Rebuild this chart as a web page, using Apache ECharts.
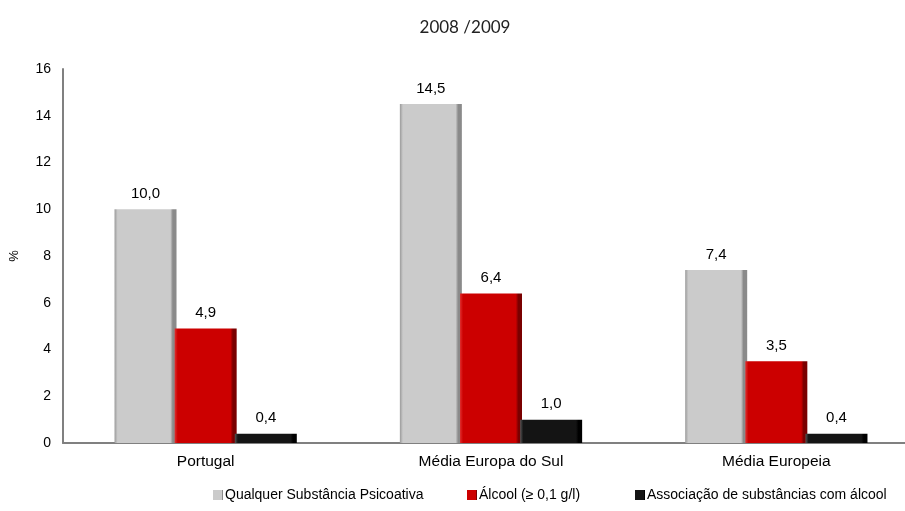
<!DOCTYPE html>
<html>
<head>
<meta charset="utf-8">
<script src="https://cdn.jsdelivr.net/npm/echarts@6/dist/echarts.min.js"></script>
<style>
  html, body { margin: 0; padding: 0; background: #fff; overflow: hidden; }
  #chart { width: 925px; height: 511px; }
</style>
</head>
<body>
<div id="chart"></div>
<script>
// Categories and series values (%)
const categories = ['Portugal', 'Média Europa do Sul', 'Média Europeia'];
const seriesNames = ['Qualquer Substância Psicoativa', 'Álcool (≥ 0,1 g/l)', 'Associação de substâncias com álcool'];
const psicoativa = [10.0, 14.5, 7.4];
const alcool = [4.9, 6.4, 3.5];
const associacao = [0.4, 1.0, 0.4];
const yTicks = [0, 2, 4, 6, 8, 10, 12, 14, 16];

const FONT = '"Liberation Sans", Arial, sans-serif';

// Bevelled bar fill: light left edge, flat face, shaded right edge
function bevel(edgeL, face, edgeR) {
  return {
    type: 'linear', x: 0, y: 0, x2: 1, y2: 0,
    colorStops: [
      { offset: 0, color: edgeL },
      { offset: 0.05, color: face },
      { offset: 0.9, color: face },
      { offset: 0.94, color: edgeR },
      { offset: 1, color: edgeR }
    ]
  };
}

const fmt = p => p.value.toFixed(1).replace('.', ',');

function barSeries(name, data, fill) {
  return {
    name: name,
    type: 'bar',
    data: data,
    barWidth: 62,
    barGap: '-3%',
    itemStyle: { color: fill },
    label: {
      show: true, position: 'top', distance: 8,
      formatter: fmt, fontFamily: FONT, fontSize: 15, color: '#000'
    }
  };
}

// One legend block per series so each entry sits at its own spot
const legendLefts = [208, 462, 630];
const legends = seriesNames.map((n, i) => ({
  data: [n],
  bottom: 4, left: legendLefts[i],
  itemWidth: 10, itemHeight: 10,
  icon: 'rect',
  textStyle: { fontFamily: FONT, fontSize: 14, color: '#000', padding: [0, 0, 0, -3] }
}));

const chart = echarts.init(document.getElementById('chart'), null, { renderer: 'canvas' });
chart.setOption({
  animation: false,
  color: ['#c8c8c8', '#cc0000', '#111111'],
  title: {
    text: '2008 /2009', left: 460, textAlign: 'center', top: 14,
    textStyle: { fontFamily: 'Lato, "DejaVu Sans", sans-serif', fontSize: 17, fontWeight: 'normal', color: '#222' }
  },
  legend: legends,
  grid: { left: 61, right: 6, top: 69, bottom: 68 },
  xAxis: {
    type: 'category', data: categories,
    axisLine: { lineStyle: { color: '#808080', width: 2 } },
    axisTick: { show: false },
    axisLabel: { fontFamily: FONT, fontSize: 15.5, color: '#000', margin: 11 }
  },
  yAxis: {
    type: 'value', min: yTicks[0], max: yTicks[yTicks.length - 1], interval: 2,
    name: '%', nameLocation: 'middle', nameGap: 42, nameRotate: 90,
    nameTextStyle: { fontFamily: FONT, fontSize: 13, color: '#000' },
    axisLine: { show: true, lineStyle: { color: '#808080', width: 2 } },
    axisTick: { show: false },
    splitLine: { show: false },
    axisLabel: { fontFamily: FONT, fontSize: 14, color: '#000', margin: 12 }
  },
  series: [
    barSeries(seriesNames[0], psicoativa, bevel('#9a9a9a', '#cbcbcb', '#8a8a8a')),
    barSeries(seriesNames[1], alcool, bevel('#e03030', '#cc0000', '#7a0000')),
    barSeries(seriesNames[2], associacao, bevel('#555555', '#141414', '#000000'))
  ]
});
</script>
</body>
</html>
